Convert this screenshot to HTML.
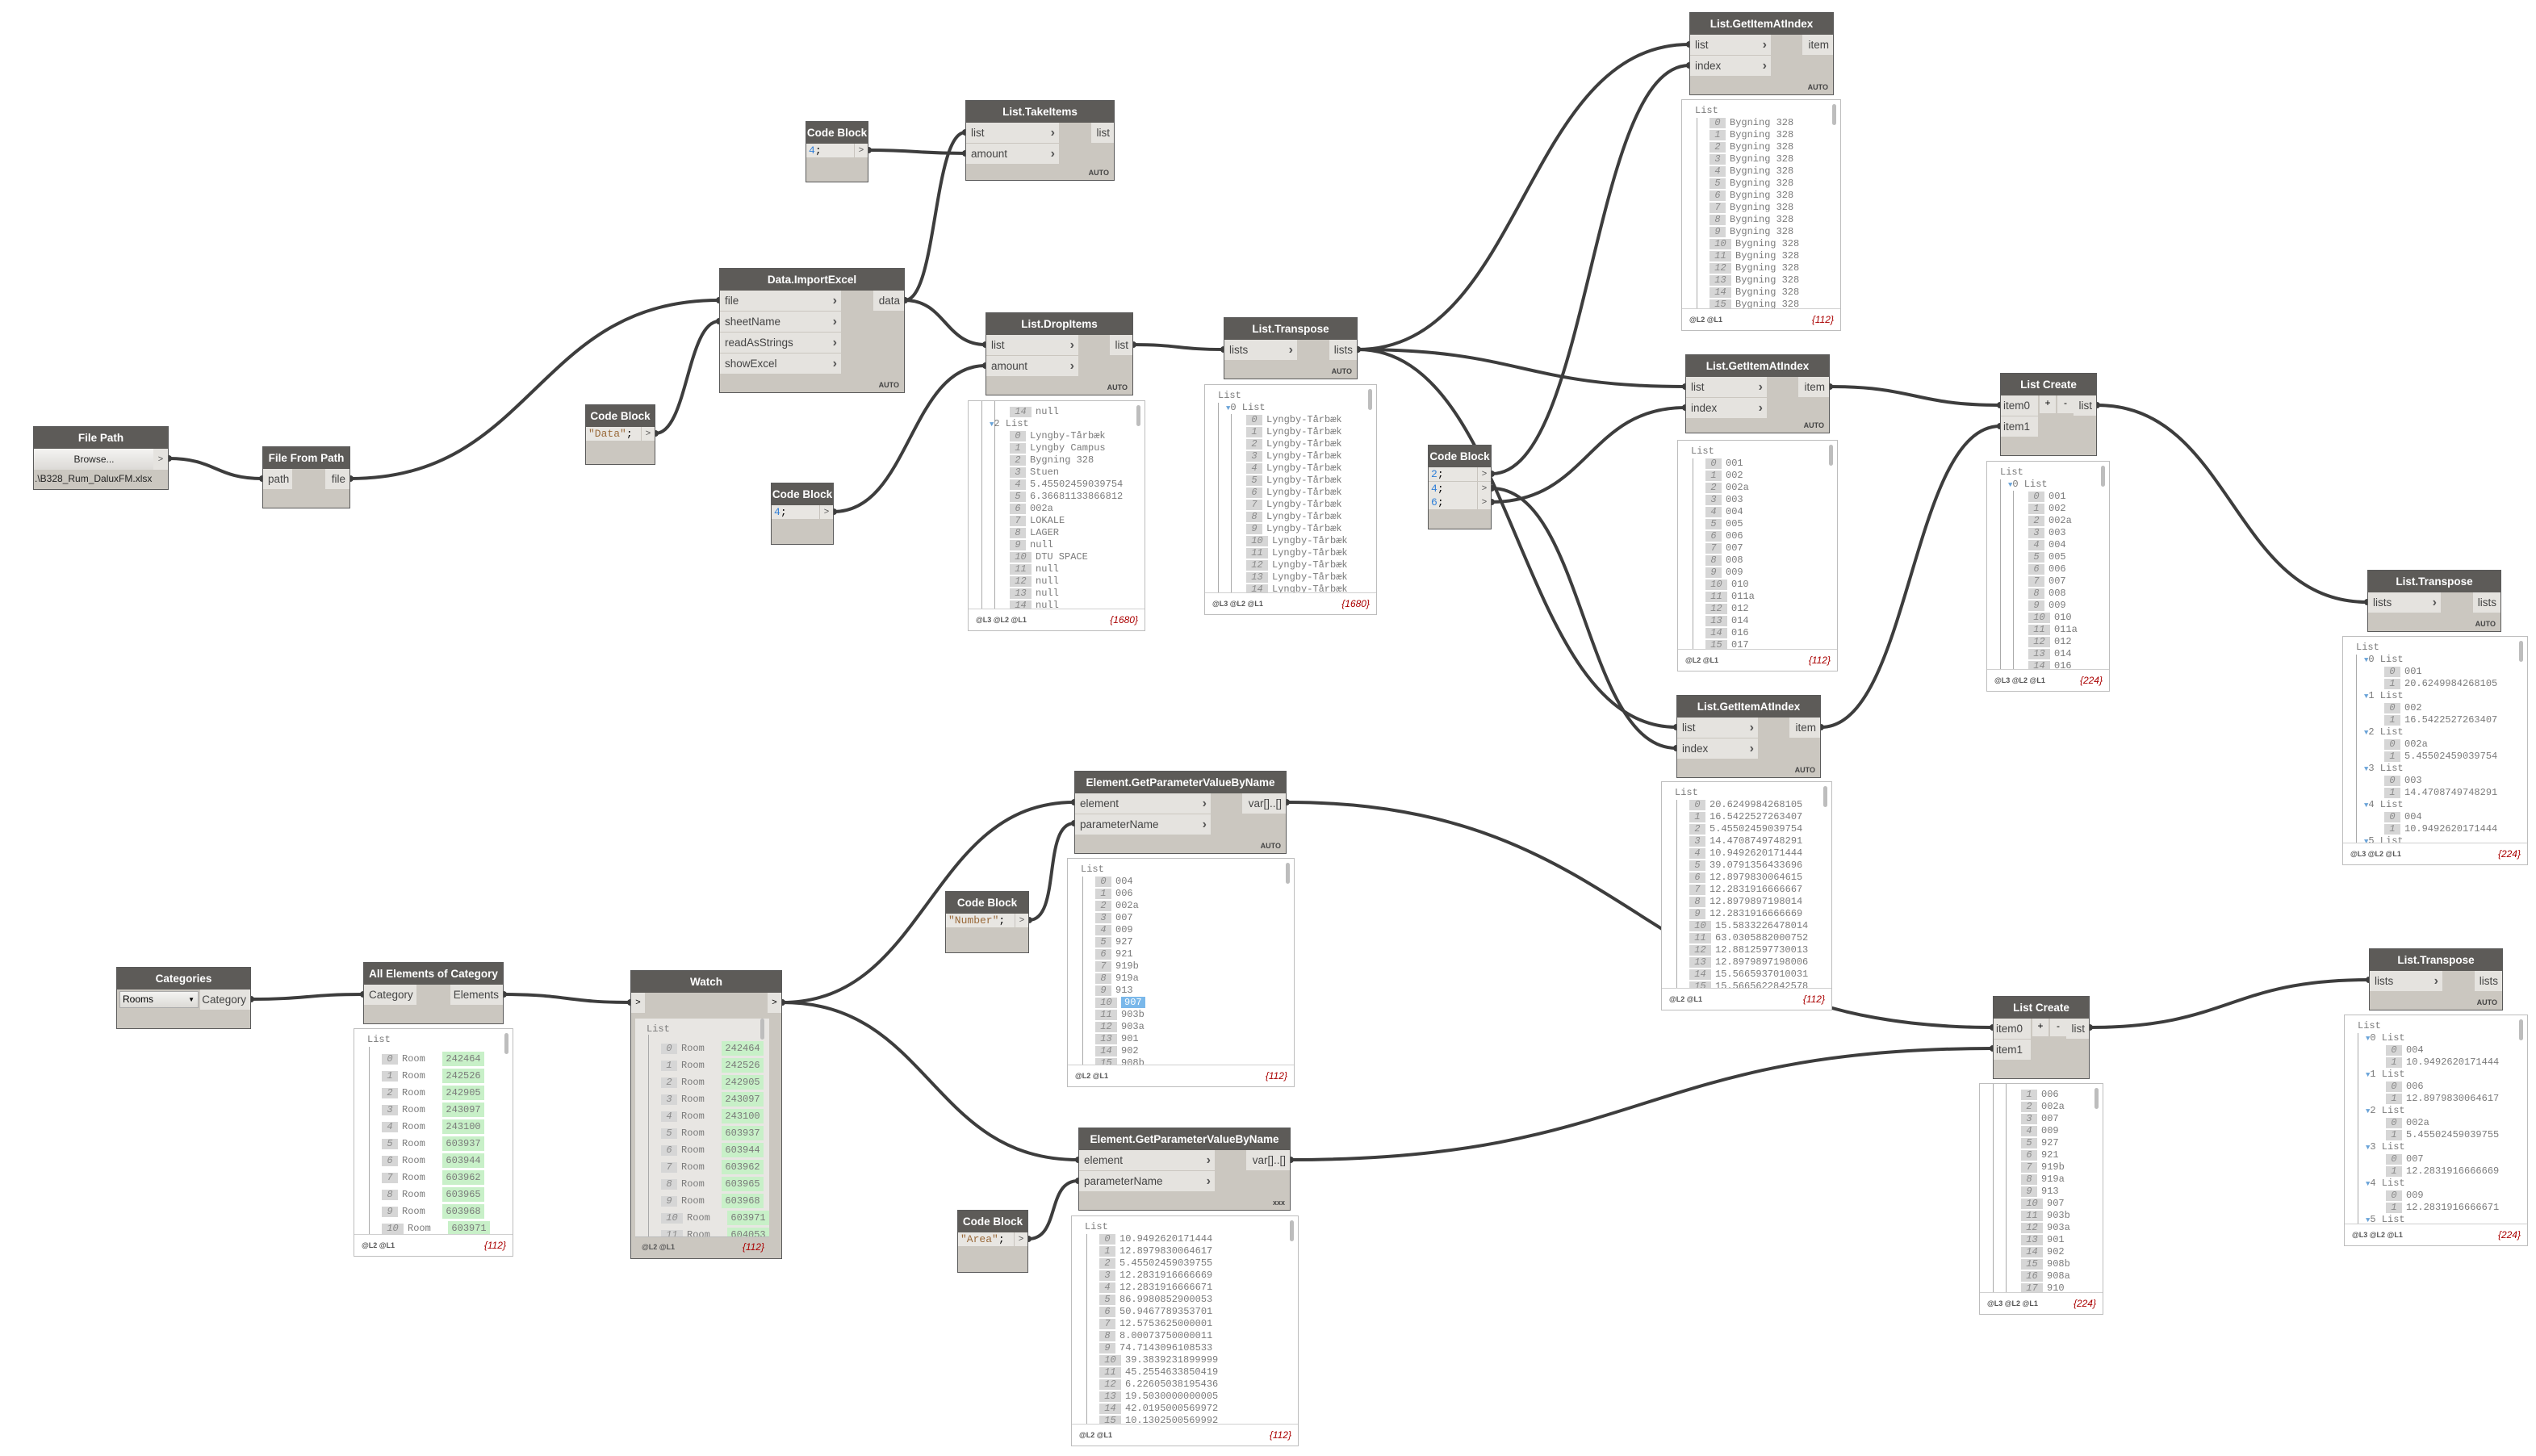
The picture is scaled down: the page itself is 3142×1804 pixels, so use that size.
<!DOCTYPE html>
<html><head><meta charset="utf-8">
<style>
*{box-sizing:border-box;margin:0;padding:0}
body{width:3142px;height:1804px;background:#fff;position:relative;overflow:hidden;font-family:"Liberation Sans",sans-serif}
.a{position:absolute}
.node{position:absolute;background:#cbc7c0;border:1px solid #5a5a5a}
.hd{position:absolute;left:0;top:0;right:0;height:27px;background:#5d5b58;color:#fff;font-size:13.5px;font-weight:bold;text-align:center;line-height:27px;white-space:nowrap}
.pin{position:absolute;left:0;height:25px;background:#e5e3df;color:#444;font-size:13.5px;line-height:25px;padding-left:6px}
.pin b{position:absolute;right:5px;top:0;color:#555;font-size:16px}
.pout{position:absolute;right:0;height:25px;background:#e5e3df;color:#444;font-size:13.5px;line-height:25px;text-align:right;padding-right:5px}
.auto{position:absolute;right:6px;bottom:4px;font-size:9px;font-weight:bold;color:#444}
.cb{position:absolute;left:0;height:17px;background:#e8e6e2;font-family:"Liberation Mono",monospace;font-size:13px;line-height:17px;padding-left:3px}
.co{position:absolute;right:0;width:17px;height:17px;background:#e8e6e2;border-left:1px solid #c8c4be;font-size:11px;line-height:17px;text-align:center;color:#555}
.pv{position:absolute;background:#fff;border:1px solid #bdbdbd;overflow:hidden}
.pv .ct{position:absolute;left:0;top:0;right:0;overflow:hidden}
.pv .ft{position:absolute;left:0;right:0;bottom:0;height:27px;border-top:1px solid #d0d0d0;font-size:9px;font-weight:bold;color:#555;line-height:27px;padding-left:9px}
.pv .ft i{position:absolute;right:8px;top:0;font-size:12px;font-weight:normal;color:#a00;font-style:italic}
.ln{position:absolute;white-space:nowrap;font-family:"Liberation Mono",monospace;font-size:12px;color:#7a7a7a;height:15px;line-height:15px}
.bd{display:inline-block;background:#d6d6d6;color:#8a8a8a;font-style:italic;text-align:center;margin-right:5px;height:13px;line-height:13px}
.gr{background:#c8f0c8;padding:2px 4px}
.vl{position:absolute;width:1px;background:#aaa}
.sb{position:absolute;right:5px;top:5px;width:5px;height:26px;border-radius:3px;background:#bdbdbd}
</style></head><body>
<svg class="a" style="left:0;top:0" width="3142" height="1804" id="w"></svg>
<div id="r"></div>
<script>
const R=document.getElementById('r'),W=document.getElementById('w');
function add(h){R.insertAdjacentHTML('beforeend',h);}
function wire(x1,y1,x2,y2){let d=Math.max(Math.abs(x2-x1)*0.5,40);
W.insertAdjacentHTML('beforeend',`<path d="M${x1} ${y1} C${x1+d} ${y1},${x2-d} ${y2},${x2} ${y2}" fill="none" stroke="#3d3d3d" stroke-width="4"/>`);
W.insertAdjacentHTML('beforeend',`<circle cx="${x1}" cy="${y1}" r="4" fill="#3d3d3d"/><circle cx="${x2}" cy="${y2}" r="4" fill="#3d3d3d"/>`);}
function node(x,y,w,h,t,ins,inW,outs,outW,auto){
 let s=`<div class="node" style="left:${x}px;top:${y}px;width:${w}px;height:${h}px"><div class="hd">${t}</div>`;
 ins.forEach((n,i)=>{s+=`<div class="pin" style="top:${27+i*26}px;width:${inW}px">${n}${auto!==null?'<b>&#8250;</b>':''}</div>`});
 outs.forEach((n,i)=>{s+=`<div class="pout" style="top:${27+i*26}px;width:${outW}px">${n}</div>`});
 if(auto)s+=`<div class="auto">${auto}</div>`;
 add(s+'</div>');}
function code(x,y,w,h,lines){
 let s=`<div class="node" style="left:${x}px;top:${y}px;width:${w}px;height:${h}px"><div class="hd">Code Block</div>`;
 lines.forEach((l,i)=>{s+=`<div class="cb" style="top:${27+i*17.5}px;width:${w-19}px">${l}</div><div class="co" style="top:${27+i*17.5}px">&gt;</div>`});
 add(s+'</div>');}
const N=v=>`<span style="color:#2f7fd8">${v}</span>;`, Q=v=>`<span style="color:#9a6a3a">"${v}"</span>;`;
function content(lines,pitch,x0){
 let s='';let y=6;
 lines.forEach(l=>{
  let [t,d,a,b,g]=l;
  if(t=='h'){s+=`<div class="ln" style="left:${x0}px;top:${y}px">${a}</div>`;}
  else if(t=='g'){s+=`<div class="ln" style="left:${x0+d*17-7}px;top:${y}px"><span style="color:#6aa3d8;font-size:9px">&#9660;</span>${a} List</div>`;}
  else {let bw=a<10?20:27;s+=`<div class="ln" style="left:${x0+d*17+1}px;top:${y+(pitch-15)/2}px"><span class="bd" style="width:${bw}px">${a}</span>${g?`<span class="gr">${b}</span>`:b}</div>`;}
  y+=pitch;});
 return s;}
function prev(x,y,w,h,lines,lv,cnt,pitch,guides){
 pitch=pitch||15;
 let s=`<div class="pv" style="left:${x}px;top:${y}px;width:${w}px;height:${h}px"><div class="ct" style="height:${h-28}px">`;
 (guides||[]).forEach(g=>{s+=`<div class="vl" style="left:${g[0]}px;top:${g[1]}px;height:${h-28-g[1]}px"></div>`});
 s+=content(lines,pitch,16)+`</div><div class="sb"></div><div class="ft">${lv}<i>{${cnt}}</i></div></div>`;
 add(s);}
const L3='@L3 @L2 @L1',L2='@L2 @L1';
function items(arr,d,start){return arr.map((v,i)=>['i',d,(start||0)+i,v]);}

wire(209,568,325,593);
wire(434,593,891,372);
wire(812,537,891,398);
wire(1121,372,1196,164);
wire(1121,372,1221,427);
wire(1076,186,1196,190);
wire(1033,634,1221,453);
wire(1404,427,1516,433);
wire(1682,433,2093,55);
wire(1682,433,2088,479);
wire(1682,433,2077,901);
wire(1848,587,2093,81);
wire(1848,622,2088,505);
wire(1848,605,2077,927);
wire(2267,479,2478,502);
wire(2256,901,2478,528);
wire(2598,502,2933,746);
wire(311,1238,450,1232);
wire(624,1232,781,1242);
wire(969,1242,1331,994);
wire(969,1242,1336,1437);
wire(1275,1140,1331,1020);
wire(1274,1535,1336,1463);
wire(1594,994,2469,1273);
wire(1599,1437,2469,1299);
wire(2589,1273,2935,1214);

add(`<div class="node" style="left:41px;top:528px;width:168px;height:79px"><div class="hd">File Path</div>
<div class="a" style="left:0;top:27px;width:149px;height:26px;background:linear-gradient(#f4f4f2,#dcdad6);font-size:12px;text-align:center;line-height:26px;color:#222">Browse...</div>
<div class="a" style="right:0;top:27px;width:18px;height:26px;background:#e5e3df;font-size:11px;text-align:center;line-height:26px;color:#555">&gt;</div>
<div class="a" style="left:1px;top:57px;font-size:12px;color:#222;white-space:nowrap">.\\B328_Rum_DaluxFM.xlsx</div></div>`);
node(325,553,109,77,'File From Path',['path'],36,['file'],30,null);
code(725,501,87,75,[Q('Data')]);
node(891,332,230,155,'Data.ImportExcel',['file','sheetName','readAsStrings','showExcel'],150,['data'],38,'AUTO');
code(998,150,78,76,[N(4)]);
node(1196,124,185,100,'List.TakeItems',['list','amount'],115,['list'],28,'AUTO');
node(1221,387,183,103,'List.DropItems',['list','amount'],114,['list'],28,'AUTO');
code(955,598,78,77,[N(4)]);
node(1516,393,166,77,'List.Transpose',['lists'],90,['lists'],34,'AUTO');
node(2093,15,179,103,'List.GetItemAtIndex',['list','index'],100,['item'],38,'AUTO');
node(2088,439,179,98,'List.GetItemAtIndex',['list','index'],100,['item'],38,'AUTO');
node(2077,861,179,103,'List.GetItemAtIndex',['list','index'],100,['item'],38,'AUTO');
code(1769,551,79,105,[N(2),N(4),N(6)]);
function lcreate(x,y){add(`<div class="node" style="left:${x}px;top:${y}px;width:120px;height:103px"><div class="hd">List Create</div>
<div class="pin" style="top:27px;width:46px;padding-left:3px">item0</div><div class="pin" style="top:53px;width:46px;padding-left:3px">item1</div>
<div class="a" style="left:48px;top:27px;width:20px;height:22px;background:#e5e3df;font-size:12px;text-align:center;line-height:18px">+</div>
<div class="a" style="left:70px;top:27px;width:20px;height:22px;background:#e5e3df;font-size:12px;text-align:center;line-height:18px">-</div>
<div class="pout" style="top:27px;width:28px">list</div></div>`);}
lcreate(2478,462);lcreate(2469,1234);
node(2933,706,166,77,'List.Transpose',['lists'],90,['lists'],34,'AUTO');
node(2935,1175,166,77,'List.Transpose',['lists'],90,['lists'],34,'AUTO');
add(`<div class="node" style="left:144px;top:1198px;width:167px;height:77px"><div class="hd">Categories</div>
<div class="a" style="left:3px;top:29px;width:98px;height:21px;background:linear-gradient(#f4f4f2,#dcdad6);border:1px solid #aaa;font-size:12px;line-height:19px;padding-left:3px">Rooms<span style="position:absolute;right:4px;font-size:8px">&#9660;</span></div>
<div class="pout" style="top:27px;width:62px">Category</div></div>`);
node(450,1192,174,77,'All Elements of Category',['Category'],65,['Elements'],65,null);
node(1331,955,263,103,'Element.GetParameterValueByName',['element','parameterName'],168,['var[]..[]'],54,'AUTO');
node(1336,1397,263,103,'Element.GetParameterValueByName',['element','parameterName'],168,['var[]..[]'],54,'xxx');
code(1171,1104,104,77,[Q('Number')]);
code(1186,1499,88,78,[Q('Area')]);

const lyng=Array(15).fill('Lyngby-Tårbæk');
prev(1199,496,220,286,[['i',2,14,'null'],['g',1,'2'],...items(['Lyngby-Tårbæk','Lyngby Campus','Bygning 328','Stuen','5.45502459039754','6.36681133866812','002a','LOKALE','LAGER','null','DTU SPACE','null','null','null','null'],2)],L3,1680,15,[[16,0],[32,0]]);
prev(1492,476,214,286,[['h',0,'List'],['g',1,'0'],...items(lyng,2)],L3,1680,15,[[16,22],[32,36]]);
prev(2083,123,198,287,[['h',0,'List'],...items(Array(16).fill('Bygning 328'),1)],L2,112,15,[[18,22]]);
const nums=['001','002','002a','003','004','005','006','007','008','009','010','011a','012','014','016','017'];
prev(2078,545,199,287,[['h',0,'List'],...items(nums,1)],L2,112,15,[[18,22]]);
prev(2058,968,212,284,[['h',0,'List'],...items(['20.6249984268105','16.5422527263407','5.45502459039754','14.4708749748291','10.9492620171444','39.0791356433696','12.8979830064615','12.2831916666667','12.8979897198014','12.2831916666669','15.5833226478014','63.0305882000752','12.8812597730013','12.8979897198006','15.5665937010031','15.5665622842578'],1)],L2,112,15,[[18,22]]);
prev(2461,571,153,286,[['h',0,'List'],['g',1,'0'],...items(nums.slice(0,15),2)],L3,224,15,[[16,22],[32,36]]);
prev(2902,788,230,284,[['h',0,'List'],['g',1,'0'],...items(['001','20.6249984268105'],2),['g',1,'1'],...items(['002','16.5422527263407'],2),['g',1,'2'],...items(['002a','5.45502459039754'],2),['g',1,'3'],...items(['003','14.4708749748291'],2),['g',1,'4'],...items(['004','10.9492620171444'],2),['g',1,'5']],L3,224,15,[[16,22]]);
const rooms=['242464','242526','242905','243097','243100','603937','603944','603962','603965','603968','603971','604053'];
const roomL=rooms.map((v,i)=>['i',1,i,'Room&nbsp;&nbsp;&nbsp;<span class="gr">'+v+'</span>']);
prev(438,1274,198,283,[['h',0,'List'],...roomL],L2,112,21,[[18,22]]);
add(`<div class="node" style="left:781px;top:1202px;width:188px;height:358px"><div class="hd">Watch</div>
<div class="a" style="left:0;top:27px;width:17px;height:25px;background:#e5e3df;font-size:11px;line-height:25px;text-align:center">&gt;</div>
<div class="a" style="right:0;top:27px;width:17px;height:25px;background:#e5e3df;font-size:11px;line-height:25px;text-align:center">&gt;</div>
<div class="a" style="left:5px;top:59px;width:166px;height:270px;background:#e8e6e3;overflow:hidden">
<div class="vl" style="left:16px;top:20px;height:250px"></div>${content([['h',0,'List'],...roomL],21,14)}
<div class="sb" style="right:6px;top:0"></div></div>
<div class="a" style="left:5px;top:329px;width:166px;height:24px;border-top:1px solid #bbb;font-size:9px;font-weight:bold;color:#555;line-height:24px;padding-left:8px">${L2}<i style="position:absolute;right:6px;font-size:12px;font-weight:normal;color:#a00">{112}</i></div></div>`);
prev(1322,1063,282,284,[['h',0,'List'],...items(['004','006','002a','007','009','927','921','919b','919a','913','<span style="background:#7ab8ea;color:#fff;padding:0 4px">907</span>','903b','903a','901','902','908b'],1)],L2,112,15,[[18,22]]);
prev(1327,1506,282,286,[['h',0,'List'],...items(['10.9492620171444','12.8979830064617','5.45502459039755','12.2831916666669','12.2831916666671','86.9980852900053','50.9467789353701','12.5753625000001','8.00073750000011','74.7143096108533','39.3839231899999','45.2554633850419','6.22605038195436','19.5030000000005','42.0195000569972','10.1302500569992'],1)],L2,112,15,[[18,22]]);
prev(2452,1342,154,287,items(['006','002a','007','009','927','921','919b','919a','913','907','903b','903a','901','902','908b','908a','910'],2,1),L3,224,15,[[16,0],[32,0]]);
prev(2904,1257,228,287,[['h',0,'List'],['g',1,'0'],...items(['004','10.9492620171444'],2),['g',1,'1'],...items(['006','12.8979830064617'],2),['g',1,'2'],...items(['002a','5.45502459039755'],2),['g',1,'3'],...items(['007','12.2831916666669'],2),['g',1,'4'],...items(['009','12.2831916666671'],2),['g',1,'5']],L3,224,15,[[16,22]]);
</script>
</body></html>
